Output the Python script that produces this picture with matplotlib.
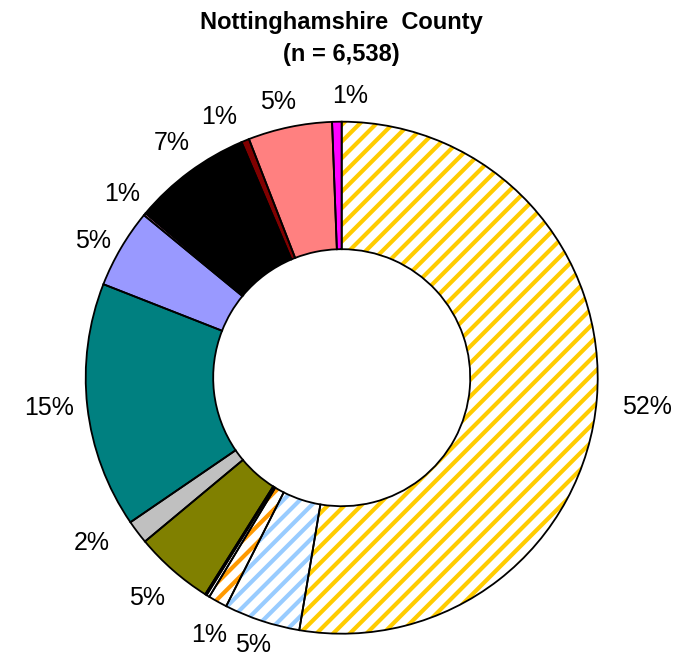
import numpy as np
import matplotlib
matplotlib.use('Agg')
import matplotlib.pyplot as plt

plt.rcParams['font.family'] = ['Liberation Sans', 'DejaVu Sans']
plt.rcParams['hatch.linewidth'] = 3.0

# slices clockwise from 12 o'clock (percent of n = 6,538)
shares = [52.65, 4.8, 1.2, 0.2, 0.1, 5.0, 1.5, 15.5, 5.0, 0.15, 7.5, 0.5, 5.3, 0.6]
labels = ['52%', '5%', '1%', '', '', '5%', '2%', '15%', '5%', '1%', '7%', '1%', '5%', '1%']
face_colors = ['white', 'white', 'white', 'white', '#99CC00', '#808000', '#C0C0C0',
               '#008080', '#9999FF', '#FF99CC', '#000000', '#800000', '#FF8080', '#FF00FF']
hatch_colors = ['#FFCC00', '#99CCFF', '#FF9900', None, None, None, None,
                None, None, None, None, None, None, None]
# small pixel nudges for the data labels (Excel shuffles them a bit)
nudges = [(17, 5), (2, -8), (8, 4), (0, 0), (0, 0), (-4, 3), (-19, -9), (-5, -2),
          (1, 10), (3, 1), (2, -2), (-14, 7), (-5, 8), (14, 8)]

W, H = 679, 656
cx, cy, rad = 341.7, 377.7, 256.0

fig = plt.figure(figsize=(W / 100, H / 100), dpi=100)
ax = fig.add_axes([0, 0, 1, 1])

# filled slices (hatched ones get the stripe colour as edge colour)
wedges, texts = ax.pie(shares, colors=face_colors, startangle=90, counterclock=False,
                       radius=1.0, labels=labels, labeldistance=1.13,
                       wedgeprops=dict(width=0.498, linewidth=0),
                       textprops=dict(fontsize=18, color='black'))
for w, hc in zip(wedges, hatch_colors):
    if hc is not None:
        w.set_edgecolor(hc)
        w.set_hatch('//')
        w.set_linewidth(0)

for w, t, (dx, dy) in zip(wedges, texts, nudges):
    mid = np.deg2rad((w.theta1 + w.theta2) / 2)
    t.set_position((1.13 * np.cos(mid) + dx / rad, 1.13 * np.sin(mid) - dy / rad))
    t.set_horizontalalignment('center')
    t.set_verticalalignment('center')

# black outlines on top
ax.pie(shares, startangle=90, counterclock=False, radius=1.0,
       wedgeprops=dict(width=0.498, fill=False, edgecolor='black', linewidth=1.3))

ax.set_aspect('auto')
ax.set_xlim(-cx / rad, (W - cx) / rad)
ax.set_ylim(-(H - cy) / rad, cy / rad)
ax.axis('off')

fig.text(cx / W, 1 - 22 / H, 'Nottinghamshire  County', ha='center', va='center',
         fontsize=17, fontweight='bold')
fig.text(cx / W, 1 - 55 / H, '(n = 6,538)', ha='center', va='center',
         fontsize=17, fontweight='bold')

fig.savefig('out.png', dpi=100)
